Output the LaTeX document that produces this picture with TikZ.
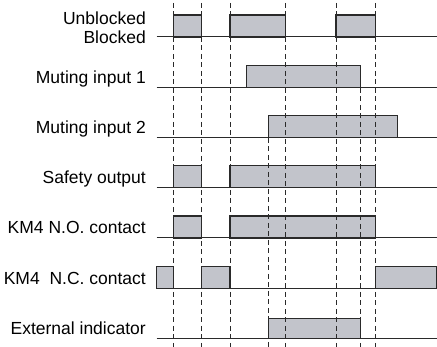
\documentclass[tikz,border=0pt]{standalone}
\usepackage{fontspec}
\setmainfont{Liberation Sans}
\usepackage{tikz}
\usetikzlibrary{positioning}
\definecolor{pulsegray}{HTML}{C2C4CB}
\definecolor{linegray}{HTML}{2A2A2A}

\begin{document}
\begin{tikzpicture}[
    x=1pt, y=-1pt,
    lbl/.style={anchor=base east, inner sep=0pt, font=\fontsize{17.5}{19}\selectfont},
    pulse/.style={draw=linegray, fill=pulsegray, line width=1.2pt},
    sigline/.style={draw=linegray, line width=1pt},
    guide/.style={draw=linegray, line width=0.9pt, dash pattern=on 5pt off 3.5pt},
  ]
  \useasboundingbox (0,0) rectangle (437,347);

  % signal labels
  \node[lbl] (unblk) at (146,25) {Unblocked};
  \node[lbl] (blk) at (146,44) {Blocked};
  \node[lbl] (mut1) at (146,83.3) {Muting input 1};
  \node[lbl] (mut2) at (146,133.5) {Muting input 2};
  \node[lbl] (safe) at (146,183.8) {Safety output};
  \node[lbl] (kmno) at (146,234) {KM4 N.O. contact};
  \node[lbl] (kmnc) at (146,284.3) {KM4~~N.C. contact};
  \node[lbl] (ext) at (146,334.5) {External indicator};

  % pulses
  \foreach \y/\h/\spans in {37/22/{173.7/201.3,230/285.3,336/375.3},
      87.25/22/{246.7/360.7}, 137.5/22/{268.7/397.5},
      187.75/22/{173.7/201.3,230/375.3}, 238/22/{173.7/201.3,230/375.3},
      288.25/21.5/{156.7/173.7,201.3/230,375.3/436.4},
      338.5/20/{268.7/360.7}}
    \foreach \a/\b in \spans
      \draw[pulse] (\a,\y) rectangle (\b,\y-\h);

  % base lines
  \foreach \y in {37,87.25,137.5,187.75,238,288.25,338.5}
    \draw[sigline] (156.7,\y) -- (437,\y);

  % time marks
  \foreach \x in {173.7,201.3,230,285.3,336,375.3}
    \draw[guide] (\x,3) -- (\x,347);
  \draw[guide] (268.7,138) -- (268.7,347);
  \draw[guide] (360.7,88) -- (360.7,347);
\end{tikzpicture}
\end{document}
